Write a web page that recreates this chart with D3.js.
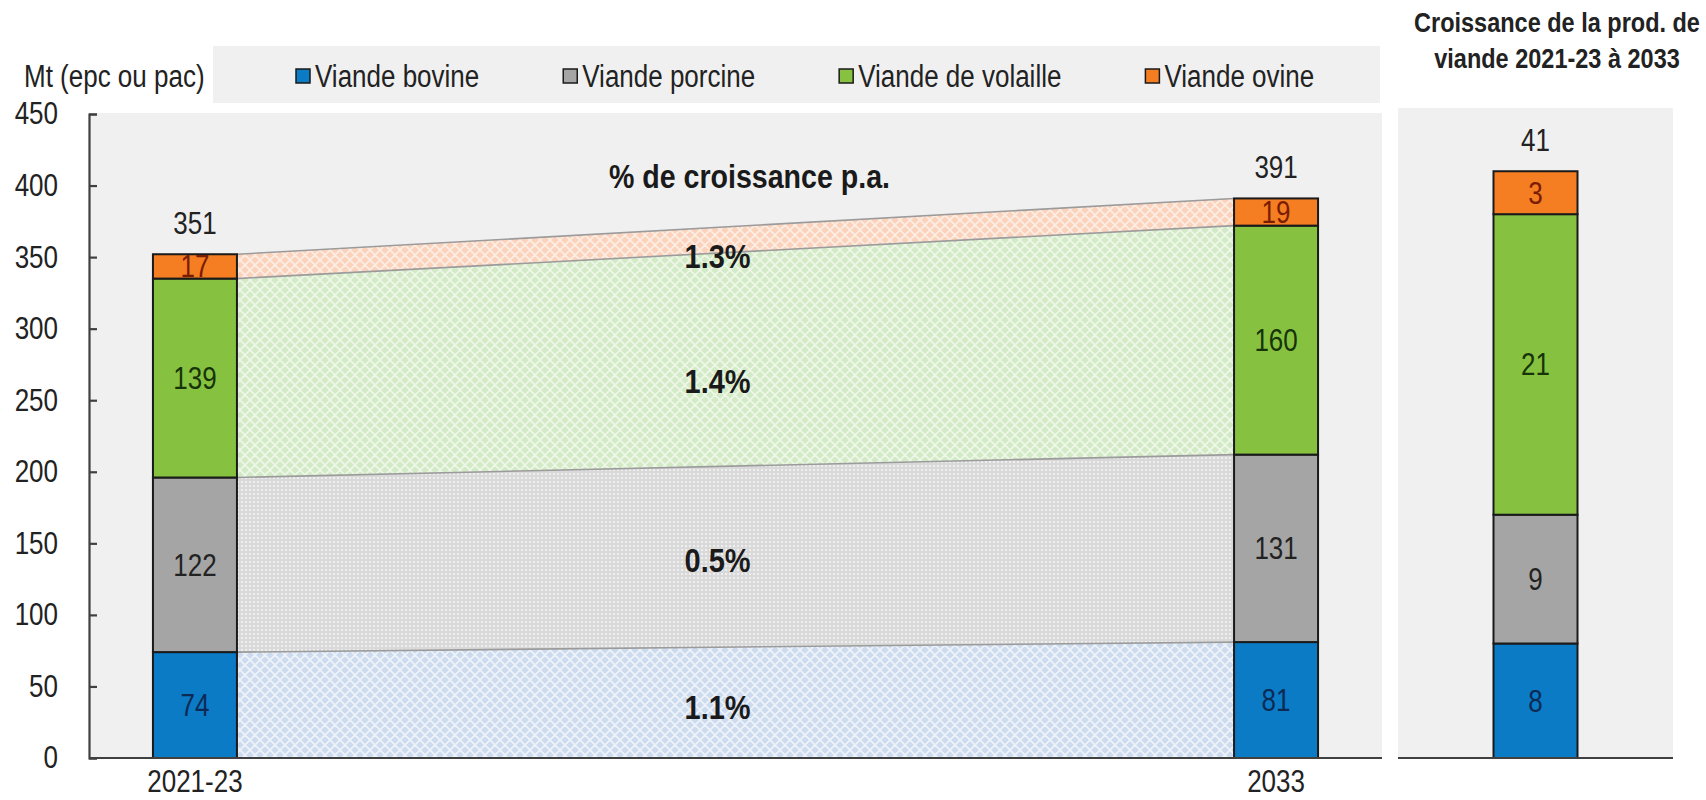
<!DOCTYPE html>
<html><head><meta charset="utf-8">
<script src="https://cdn.jsdelivr.net/npm/d3@7"></script>
<style>
html,body{margin:0;padding:0;background:#fff;}
svg text{font-family:"Liberation Sans",Arial,sans-serif;}
</style></head>
<body><svg id="c" width="1706" height="800"></svg>
<script>
// ---- data ----
const periods = ["2021-23", "2033"];
const seriesNames = ["Viande bovine", "Viande porcine", "Viande de volaille", "Viande ovine"];
const valuesBase = [74, 122, 139, 17];      // 2021-23
const valuesProj = [81, 131, 160, 19];      // 2033
const totalLabels = [351, 391];
const growthRates = ["1.1%", "0.5%", "1.4%", "1.3%"];
const growthValues = [8, 9, 21, 3];
const growthTotal = 41;
const yTicks = [0, 50, 100, 150, 200, 250, 300, 350, 400, 450];
const yUnit = "Mt (epc ou pac)";
const ratesTitle = "% de croissance p.a.";
const rightTitle = ["Croissance de la prod. de", "viande 2021-23 à 2033"];

// ---- styles ----
const colors = ["#0B7BC5", "#A5A5A5", "#86C23F", "#F57D22"];
const labelColors = ["#0d2a55", "#222222", "#17330a", "#7a1c00"];
const patBase = ["#cddbef", "#d9d9d9", "#d3eac6", "#fbd3bd"];
const patLine = ["#eef3fa", "#f7f7f7", "#eef7e8", "#fdeee4"];
const SY = 1.2;
const bgCol = "#f0f0f0";

const svg = d3.select("#c");
const defs = svg.append("defs");
seriesNames.forEach((s, i) => {
  if (i === 1) {
    const p = defs.append("pattern").attr("id", "pat" + i).attr("patternUnits", "userSpaceOnUse")
      .attr("width", 4).attr("height", 4);
    p.append("rect").attr("width", 4).attr("height", 4).attr("fill", patBase[i]);
    p.append("circle").attr("cx", 2).attr("cy", 2).attr("r", 1).attr("fill", patLine[i]);
  } else {
    const p = defs.append("pattern").attr("id", "pat" + i).attr("patternUnits", "userSpaceOnUse")
      .attr("width", 10).attr("height", 10);
    p.append("rect").attr("width", 10).attr("height", 10).attr("fill", patBase[i]);
    p.append("path").attr("d", "M0,0L10,10M10,0L0,10M-5,5L5,15M5,-5L15,5M5,15L15,5M-5,5L5,-5")
      .attr("stroke", patLine[i]).attr("stroke-width", 1.6);
  }
});

function txt(g, x, y, s, o = {}) {
  return g.append("text")
    .attr("transform", `translate(${x},${y}) scale(1,${o.sy || SY})`)
    .attr("text-anchor", o.anchor || "middle")
    .attr("dominant-baseline", "central")
    .attr("font-size", o.size || 26)
    .attr("font-weight", o.bold ? "bold" : "normal")
    .attr("fill", o.fill || "#222")
    .text(s);
}

// ---- layout ----
const L = { x0: 89, x1: 1382, top: 113, bottom: 758 };
const R = { x0: 1398, x1: 1673, top: 108, bottom: 758 };
const bw = 84;

const x = d3.scalePoint().domain(periods).range([L.x0, L.x1]).padding(0.098);
const y = d3.scaleLinear().domain([0, 450]).range([L.bottom, 114]);
const xR = d3.scalePoint().domain(["growth"]).range([R.x0, R.x1]).padding(0.5);
const yR = d3.scaleLinear().domain([0, 45]).range([R.bottom, 114]);

// backgrounds
svg.append("rect").attr("x", L.x0).attr("y", L.top).attr("width", L.x1 - L.x0).attr("height", L.bottom - L.top).attr("fill", bgCol);
svg.append("rect").attr("x", R.x0).attr("y", R.top).attr("width", R.x1 - R.x0).attr("height", R.bottom - R.top).attr("fill", bgCol);

// legend
const lg = svg.append("g");
lg.append("rect").attr("x", 213).attr("y", 46).attr("width", 1380 - 213).attr("height", 57).attr("fill", bgCol);
txt(lg, 24, 76, yUnit, { anchor: "start" });
let lx = 296;
seriesNames.forEach((s, i) => {
  lg.append("rect").attr("x", lx).attr("y", 69).attr("width", 14).attr("height", 14)
    .attr("fill", colors[i]).attr("stroke", "#1a1a1a").attr("stroke-width", 1.5);
  const t = txt(lg, lx + 19, 76, s, { anchor: "start" });
  lx += 19 + t.node().getComputedTextLength() + 84;
});

// stacks
function stackOf(vals) {
  let acc = 0;
  return vals.map(v => { const s = { y0: acc, y1: acc + v, v }; acc += v; return s; });
}
const sBase = stackOf(valuesBase), sProj = stackOf(valuesProj);

// bands between bars
const xa = x(periods[0]) + bw / 2, xb = x(periods[1]) - bw / 2;
const bandG = svg.append("g");
seriesNames.forEach((s, i) => {
  const pts = [{ x: xa, y0: sBase[i].y0, y1: sBase[i].y1 }, { x: xb, y0: sProj[i].y0, y1: sProj[i].y1 }];
  bandG.append("path")
    .attr("d", d3.area().x(d => d.x).y0(d => y(d.y0)).y1(d => y(d.y1))(pts))
    .attr("fill", `url(#pat${i})`);
});
seriesNames.forEach((s, i) => {
  const pts = [{ x: xa, v: sBase[i].y1 }, { x: xb, v: sProj[i].y1 }];
  bandG.append("path").attr("d", d3.line().x(d => d.x).y(d => y(d.v))(pts))
    .attr("stroke", "#9b9b9b").attr("stroke-width", 1.6).attr("fill", "none");
});
// growth labels
const fr = 0.482, nudges = [5, 4, 22, 17];
growthRates.forEach((r, i) => {
  const y0 = sBase[i].y0 + fr * (sProj[i].y0 - sBase[i].y0);
  const y1 = sBase[i].y1 + fr * (sProj[i].y1 - sBase[i].y1);
  txt(bandG, xa + fr * (xb - xa), y((y0 + y1) / 2) + nudges[i], r, { bold: true, size: 29, sy: 1.15, fill: "#1a1a1a" });
});
txt(bandG, xa + 0.514 * (xb - xa), 177, ratesTitle, { bold: true, size: 28.6, sy: 1.15, fill: "#1a1a1a" });

// bars
function drawBar(g, cx, stack, ys, total) {
  stack.forEach((d, i) => {
    g.append("rect").attr("x", cx - bw / 2).attr("y", ys(d.y1)).attr("width", bw)
      .attr("height", ys(d.y0) - ys(d.y1)).attr("fill", colors[i])
      .attr("stroke", "#1a1a1a").attr("stroke-width", 2);
    txt(g, cx, (ys(d.y0) + ys(d.y1)) / 2, d3.format("d")(d.v), { fill: labelColors[i] });
  });
  txt(g, cx, ys(stack[stack.length - 1].y1) - 31, total, { fill: "#222" });
}
const barG = svg.append("g");
drawBar(barG, x(periods[0]), sBase, y, totalLabels[0]);
drawBar(barG, x(periods[1]), sProj, y, totalLabels[1]);
drawBar(barG, xR("growth"), stackOf(growthValues), yR, growthTotal);

// axes
const ax = svg.append("g").attr("transform", `translate(${L.x0},0)`)
  .call(d3.axisLeft(y).tickValues(yTicks).tickSize(-8).tickSizeOuter(-8).tickPadding(31));
ax.selectAll("path,line").attr("stroke", "#404040").attr("stroke-width", 2.2);
ax.selectAll("text").attr("font-size", 26).attr("fill", "#222").attr("transform", `scale(1,${SY})`);
svg.append("line").attr("x1", L.x0).attr("x2", L.x1).attr("y1", y(0)).attr("y2", y(0)).attr("stroke", "#404040").attr("stroke-width", 2.2);
svg.append("line").attr("x1", R.x0).attr("x2", R.x1).attr("y1", yR(0)).attr("y2", yR(0)).attr("stroke", "#404040").attr("stroke-width", 2.2);
periods.forEach(p => txt(svg, x(p), 781, p));

// right title
rightTitle.forEach((t, i) => txt(svg, 1557, 22 + i * 36, t, { bold: true, size: 23.5, sy: 1.15, fill: "#222" }));
</script></body></html>
